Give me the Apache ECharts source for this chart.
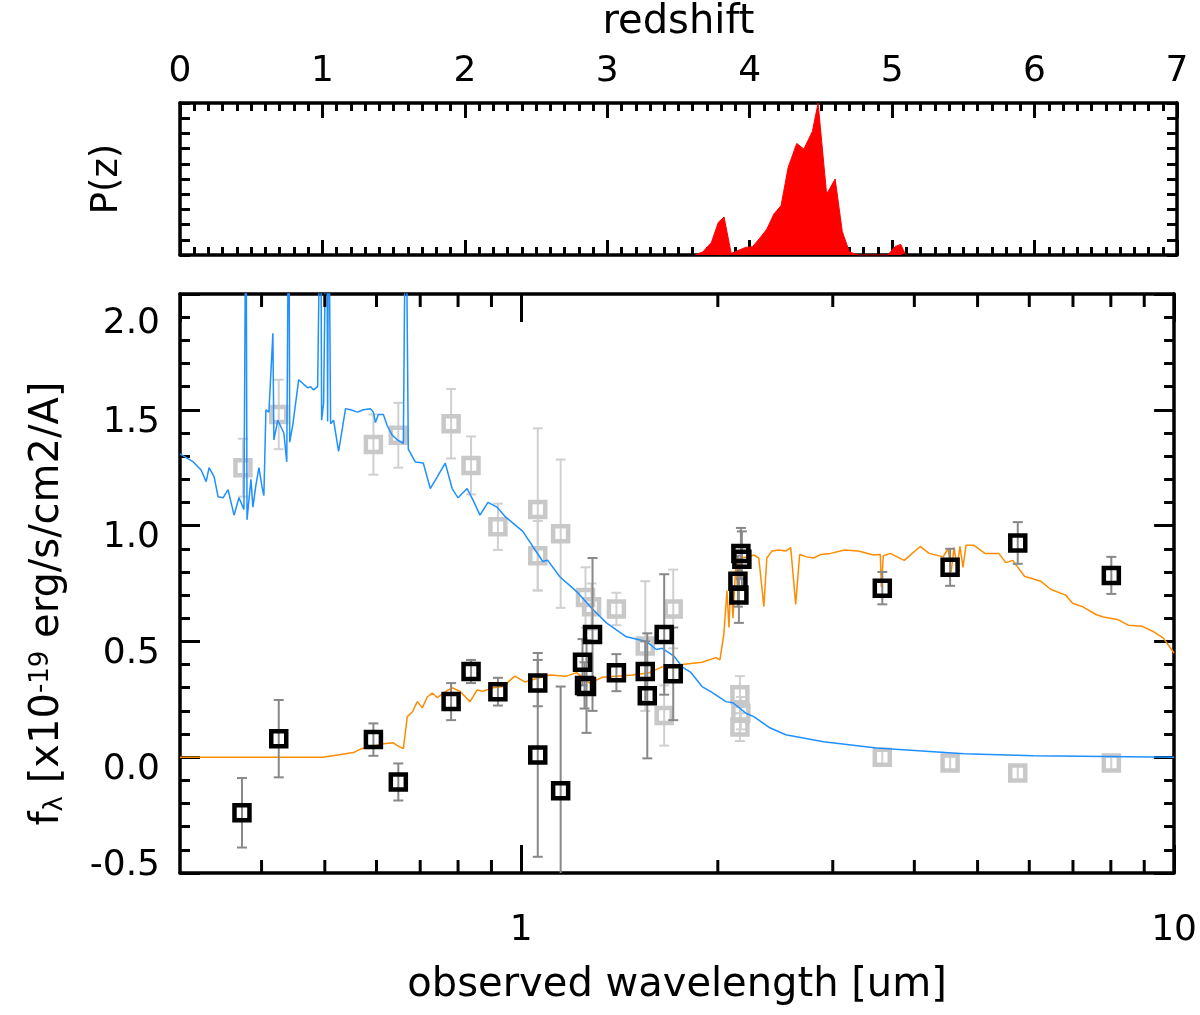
<!DOCTYPE html>
<html>
<head>
<meta charset="utf-8">
<script src="https://cdn.jsdelivr.net/npm/echarts@6/dist/echarts.min.js"></script>
<style>
  html, body { margin: 0; padding: 0; background: #fff; }
  #chart { width: 1200px; height: 1015px; }
</style>
</head>
<body>
<div id="chart"></div>
<script>
// redshift probability distribution (peak normalised to 1)
const pzZ = [3.617, 3.67, 3.73, 3.78, 3.82, 3.87, 3.91, 3.97, 4.02, 4.07, 4.12, 4.17, 4.22, 4.27, 4.33, 4.38, 4.44, 4.48, 4.54, 4.60, 4.65, 4.70, 4.76, 4.97, 5.02, 5.06, 5.09, 5.10]
const pzP = [0, 0.02, 0.08, 0.215, 0.25, 0.01, 0.026, 0.05, 0.055, 0.11, 0.17, 0.27, 0.325, 0.576, 0.734, 0.697, 0.813, 1.0, 0.4, 0.5, 0.154, 0.02, 0, 0, 0.055, 0.07, 0.01, 0]

// low-z template (blue)
const blueWl = [0.300, 0.3144, 0.3232, 0.3290, 0.3324, 0.3384, 0.3431, 0.3492, 0.3554, 0.3630, 0.3694, 0.3759, 0.3786, 0.3800, 0.3853, 0.3880, 0.3921, 0.3963, 0.4005, 0.4033, 0.4062, 0.4105, 0.4163, 0.4178, 0.4236, 0.4327, 0.4372, 0.4403, 0.4418, 0.4466, 0.4560, 0.4641, 0.4707, 0.4756, 0.4806, 0.4875, 0.4927, 0.4944, 0.4979, 0.5032, 0.5050, 0.5067, 0.5103, 0.5157, 0.5249, 0.5323, 0.5379, 0.5475, 0.5610, 0.5730, 0.5873, 0.5935, 0.5977, 0.6040, 0.6147, 0.6234, 0.6345, 0.6458, 0.6596, 0.6653, 0.6712, 0.6879, 0.7076, 0.7253, 0.7434, 0.7646, 0.7834, 0.8000, 0.8259, 0.8434, 0.8643, 0.8890, 0.9175, 0.9437, 1.0053, 1.0785, 1.0977, 1.1446, 1.2153, 1.2855, 1.3502, 1.4487, 1.5542, 1.6099, 1.6444, 1.7152, 1.7640, 1.8199, 1.8918, 1.9592, 2.0583, 2.1095, 2.2080, 2.2709, 2.4026, 2.5410, 2.9040, 3.4995, 4.7654, 6.0953, 10.0]
const blueFlux = [1.31, 1.275, 1.24, 1.19, 1.25, 1.21, 1.125, 1.12, 1.155, 1.045, 1.12, 1.07, 2.6, 1.025, 1.2, 1.08, 1.175, 1.25, 1.17, 1.13, 1.5, 1.49, 1.83, 1.37, 1.455, 1.40, 1.275, 2.6, 1.36, 1.435, 1.63, 1.61, 1.595, 1.60, 1.586, 1.60, 2.6, 1.455, 1.53, 2.6, 1.45, 2.6, 1.44, 1.455, 1.32, 1.425, 1.505, 1.50, 1.49, 1.50, 1.505, 1.49, 1.445, 1.48, 1.48, 1.43, 1.39, 1.37, 1.355, 2.6, 1.33, 1.275, 1.27, 1.16, 1.21, 1.27, 1.16, 1.12, 1.16, 1.11, 1.045, 1.10, 1.08, 1.04, 0.975, 0.845, 0.85, 0.78, 0.715, 0.64, 0.58, 0.52, 0.50, 0.465, 0.47, 0.435, 0.39, 0.365, 0.305, 0.28, 0.24, 0.235, 0.19, 0.175, 0.127, 0.097, 0.067, 0.04, 0.015, 0.006, 0.0]

// best-fit high-z template (orange)
const orangeWl = [0.300, 0.4962, 0.5231, 0.5531, 0.5670, 0.5873, 0.6147, 0.6368, 0.6458, 0.6596, 0.6689, 0.6808, 0.6929, 0.7052, 0.7177, 0.7304, 0.7434, 0.7592, 0.7834, 0.8057, 0.8346, 0.8552, 0.8735, 0.9048, 0.9371, 0.9774, 1.0123, 1.0558, 1.1052, 1.1732, 1.2153, 1.2721, 1.3314, 1.3985, 1.4796, 1.5704, 1.6444, 1.7640, 1.8918, 1.9873, 2.0150, 2.0436, 2.0654, 2.0801, 2.0946, 2.1095, 2.1320, 2.1468, 2.1620, 2.2312, 2.2709, 2.3111, 2.3524, 2.3774, 2.4194, 2.4797, 2.5410, 2.5864, 2.6322, 2.6694, 2.7358, 2.8039, 2.8735, 2.9764, 3.1266, 3.2845, 3.4623, 3.5481, 3.5604, 3.5857, 3.6745, 3.8603, 4.0832, 4.2141, 4.4274, 4.5060, 4.5540, 4.6026, 4.6505, 4.6989, 4.7489, 4.7995, 4.9363, 5.1310, 5.3883, 5.5228, 5.6605, 5.9036, 6.0081, 6.2451, 6.4686, 6.8197, 6.9895, 7.2384, 7.6031, 7.7930, 8.1846, 8.5093, 8.9381, 9.2562, 9.6209, 10.0]
const orangeFlux = [0, 0, 0.01, 0.02, 0.035, 0.045, 0.058, 0.062, 0.05, 0.037, 0.175, 0.195, 0.24, 0.213, 0.26, 0.277, 0.257, 0.277, 0.30, 0.284, 0.24, 0.29, 0.285, 0.30, 0.305, 0.35, 0.325, 0.34, 0.355, 0.35, 0.365, 0.32, 0.345, 0.35, 0.355, 0.365, 0.39, 0.40, 0.41, 0.43, 0.42, 0.535, 0.72, 0.56, 0.78, 0.60, 0.84, 0.70, 0.86, 0.865, 0.873, 0.86, 0.65, 0.86, 0.89, 0.895, 0.89, 0.905, 0.66, 0.875, 0.865, 0.86, 0.875, 0.88, 0.895, 0.89, 0.873, 0.875, 0.735, 0.87, 0.88, 0.85, 0.91, 0.88, 0.865, 0.90, 0.80, 0.905, 0.82, 0.91, 0.82, 0.915, 0.915, 0.88, 0.88, 0.84, 0.85, 0.78, 0.775, 0.76, 0.725, 0.70, 0.665, 0.65, 0.615, 0.605, 0.595, 0.57, 0.565, 0.545, 0.515, 0.45]

// observed photometry (black squares)
const obsWl = [0.3733, 0.4250, 0.5935, 0.6480, 0.7806, 0.8375, 0.9207, 1.0597, 1.0597, 1.1488, 1.2409, 1.2498, 1.2585, 1.2855, 1.3985, 1.5484, 1.5594, 1.6552, 1.7089, 2.1695, 2.1770, 2.1468, 2.1544, 3.5727, 4.5380, 5.7611, 8.0140]
const obsFlux = [-0.24, 0.08, 0.076, -0.107, 0.24, 0.37, 0.283, 0.32, 0.01, -0.145, 0.41, 0.31, 0.305, 0.53, 0.365, 0.37, 0.265, 0.53, 0.36, 0.88, 0.855, 0.76, 0.70, 0.73, 0.82, 0.925, 0.785]
const obsErr = [0.15, 0.167, 0.07, 0.08, 0.08, 0.05, 0.06, 0.1, 0.44, 0.45, 0.1, 0.1, 0.2, 0.33, 0.08, 0.13, 0.27, 0.26, 0.2, 0.11, 0.12, 0.11, 0.12, 0.07, 0.08, 0.09, 0.08]

// alternative photometry (grey squares)
const altWl = [0.3746, 0.4250, 0.5935, 0.6480, 0.7806, 0.8375, 0.9207, 1.0597, 1.0597, 1.1488, 1.2540, 1.2812, 1.3985, 1.5484, 1.6552, 1.7089, 2.1620, 2.1695, 2.1620, 3.5727, 4.5380, 5.7611, 8.0140]
const altFlux = [1.25, 1.48, 1.35, 1.39, 1.44, 1.26, 0.995, 1.07, 0.87, 0.965, 0.69, 0.65, 0.64, 0.48, 0.18, 0.64, 0.27, 0.19, 0.13, 0.0, -0.025, -0.068, -0.025]
const altErr = [0.125, 0.15, 0.13, 0.14, 0.15, 0.125, 0.1, 0.35, 0.15, 0.32, 0.13, 0.1, 0.07, 0.28, 0.13, 0.17, 0.08, 0.07, 0.06, 0.03, 0.03, 0.03, 0.03]

// axis ranges and tick values
const zMin = 0, zMax = 7
const wlMin = 0.3, wlMax = 10
const fluxMin = -0.5, fluxMax = 2.0
const wlLabels = [1, 10]
const wlMinorTicks = [0.4, 0.5, 0.6, 0.7, 0.8, 0.9, 2, 3, 4, 5, 6, 7, 8, 9]

const font = 'DejaVu Sans'
const black = '#000'
const axisLine = { show: true, onZero: false, lineStyle: { color: black, width: 3.5 } }
const tickStyle = { color: black, width: 3 }

const errorBars = (wl, flux, err, color, z) => ({
  type: 'custom',
  xAxisIndex: 2,
  yAxisIndex: 2,
  z,
  silent: true,
  data: wl.map((w, i) => [w, flux[i], err[i]]),
  renderItem: (params, api) => {
    const x = api.value(0), y = api.value(1), e = api.value(2)
    const lo = Math.max(y - e, fluxMin), hi = Math.min(y + e, fluxMax)
    const p0 = api.coord([x, lo]), p1 = api.coord([x, hi])
    const style = { stroke: color, lineWidth: 2 }
    const children = [{ type: 'line', shape: { x1: p0[0], y1: p0[1], x2: p1[0], y2: p1[1] }, style }]
    if (y - e > fluxMin) children.push({ type: 'line', shape: { x1: p0[0] - 5, y1: p0[1], x2: p0[0] + 5, y2: p0[1] }, style })
    if (y + e < fluxMax) children.push({ type: 'line', shape: { x1: p1[0] - 5, y1: p1[1], x2: p1[0] + 5, y2: p1[1] }, style })
    return { type: 'group', children }
  }
})

const squares = (wl, flux, color, z) => ({
  type: 'scatter',
  xAxisIndex: 2,
  yAxisIndex: 2,
  z,
  symbol: 'rect',
  symbolSize: 15,
  itemStyle: { color: 'rgba(0,0,0,0)', borderColor: color, borderWidth: 4.5, opacity: 1 },
  data: wl.map((w, i) => [w, flux[i]])
})

// y labels sit a little below their ticks, the end ones are pulled inside the frame
const fluxLabel = v => {
  const s = v.toFixed(1)
  if (Math.abs(v - fluxMax) < 1e-9) return '{top|' + s + '}'
  if (Math.abs(v - fluxMin) < 1e-9) return '{bot|' + s + '}'
  return '{mid|' + s + '}'
}

const chart = echarts.init(document.getElementById('chart'))

chart.setOption({
  animation: false,
  backgroundColor: '#fff',
  textStyle: { fontFamily: font },
  grid: [
    { left: 180, right: 23, top: 103, height: 152 },
    { left: 180, right: 23, top: 294, height: 579 }
  ],
  xAxis: [
    {
      gridIndex: 0, type: 'value', position: 'top', min: zMin, max: zMax, interval: 1,
      name: 'redshift', nameLocation: 'middle', nameGap: 60,
      nameTextStyle: { fontSize: 40, color: black, fontFamily: font },
      axisLine,
      axisTick: { inside: true, length: 15, lineStyle: tickStyle },
      minorTick: { show: true, splitNumber: 10, length: 8, lineStyle: tickStyle },
      axisLabel: { fontSize: 36, color: black, fontFamily: font, margin: 13 },
      splitLine: { show: false }
    },
    {
      gridIndex: 0, type: 'value', position: 'bottom', min: zMin, max: zMax, interval: 1,
      axisLine,
      axisTick: { inside: true, length: 15, lineStyle: tickStyle },
      minorTick: { show: true, splitNumber: 10, length: 8, lineStyle: tickStyle },
      axisLabel: { show: false },
      splitLine: { show: false }
    },
    {
      gridIndex: 1, type: 'log', logBase: 10, position: 'bottom', min: wlMin, max: wlMax,
      name: 'observed wavelength [um]', nameLocation: 'middle', nameGap: 93,
      nameTextStyle: { fontSize: 40, color: black, fontFamily: font },
      axisLine,
      axisTick: { inside: true, length: 28, lineStyle: tickStyle },
      axisLabel: {
        fontSize: 36, color: black, fontFamily: font, margin: 40, showMinLabel: false,
        formatter: v => (wlLabels.includes(Math.round(v * 1000) / 1000) ? String(Math.round(v)) : '')
      },
      splitLine: { show: false }
    },
    {
      gridIndex: 1, type: 'log', logBase: 10, position: 'top', min: wlMin, max: wlMax,
      axisLine,
      axisTick: { inside: true, length: 28, lineStyle: tickStyle },
      axisLabel: { show: false },
      splitLine: { show: false }
    }
  ],
  yAxis: [
    {
      gridIndex: 0, type: 'value', position: 'left', min: 0, max: 1, interval: 0.1,
      name: 'P(z)', nameLocation: 'middle', nameGap: 54, nameRotate: 90,
      nameTextStyle: { fontSize: 37, color: black, fontFamily: font },
      axisLine,
      axisTick: { inside: true, length: 10, lineStyle: tickStyle },
      axisLabel: { show: false },
      splitLine: { show: false }
    },
    {
      gridIndex: 0, type: 'value', position: 'right', min: 0, max: 1, interval: 0.1,
      axisLine,
      axisTick: { inside: true, length: 10, lineStyle: tickStyle },
      axisLabel: { show: false },
      splitLine: { show: false }
    },
    {
      gridIndex: 1, type: 'value', position: 'left', min: fluxMin, max: fluxMax, interval: 0.5,
      name: 'f{sub|λ} [x10{sup|-19} erg/s/cm2/A]', nameLocation: 'middle', nameGap: 112, nameRotate: 90,
      nameTextStyle: {
        fontSize: 40, color: black, fontFamily: font, padding: [0, 40, 0, 0],
        rich: {
          sub: { fontSize: 26, fontFamily: font, verticalAlign: 'bottom' },
          sup: { fontSize: 26, fontFamily: font, verticalAlign: 'top' }
        }
      },
      axisLine,
      axisTick: { inside: true, length: 20, lineStyle: tickStyle },
      minorTick: { show: true, splitNumber: 5, length: 10, lineStyle: tickStyle },
      axisLabel: {
        fontSize: 36, color: black, fontFamily: font, margin: 20,
        formatter: fluxLabel,
        rich: {
          top: { fontSize: 36, fontFamily: font, color: black, padding: [60, 0, 0, 0] },
          mid: { fontSize: 36, fontFamily: font, color: black, padding: [25, 0, 0, 0] },
          bot: { fontSize: 36, fontFamily: font, color: black, padding: [0, 0, 14, 0] }
        }
      },
      splitLine: { show: false }
    },
    {
      gridIndex: 1, type: 'value', position: 'right', min: fluxMin, max: fluxMax, interval: 0.5,
      axisLine,
      axisTick: { inside: true, length: 20, lineStyle: tickStyle },
      minorTick: { show: true, splitNumber: 5, length: 10, lineStyle: tickStyle },
      axisLabel: { show: false },
      splitLine: { show: false }
    }
  ],
  series: [
    {
      name: 'P(z)', type: 'line', xAxisIndex: 0, yAxisIndex: 0,
      data: pzZ.map((z, i) => [z, pzP[i]]),
      symbol: 'none',
      lineStyle: { color: '#ff0000', width: 1 },
      areaStyle: { color: '#ff0000', opacity: 1 }
    },
    errorBars(altWl, altFlux, altErr, '#d0d0d0', 2),
    squares(altWl, altFlux, '#c8c8c8', 3),
    {
      name: 'low-z', type: 'line', xAxisIndex: 2, yAxisIndex: 2, z: 4,
      data: blueWl.map((w, i) => [w, blueFlux[i]]),
      symbol: 'none', clip: true,
      lineStyle: { color: '#1e90ff', width: 1.5 }
    },
    {
      name: 'high-z', type: 'line', xAxisIndex: 2, yAxisIndex: 2, z: 5,
      data: orangeWl.map((w, i) => [w, orangeFlux[i]]),
      symbol: 'none', clip: true,
      lineStyle: { color: '#ff8c00', width: 1.5 }
    },
    errorBars(obsWl, obsFlux, obsErr, '#888888', 6),
    squares(obsWl, obsFlux, '#000000', 7),
    {
      // minor ticks of the log axis, top and bottom
      type: 'custom', xAxisIndex: 2, yAxisIndex: 2, z: 10, silent: true,
      data: wlMinorTicks.map(v => [v, 0]),
      renderItem: (params, api) => {
        const b = api.coord([api.value(0), fluxMin]), t = api.coord([api.value(0), fluxMax])
        const style = { stroke: black, lineWidth: 3 }
        return {
          type: 'group',
          children: [
            { type: 'line', shape: { x1: b[0], y1: b[1], x2: b[0], y2: b[1] - 13 }, style },
            { type: 'line', shape: { x1: t[0], y1: t[1], x2: t[0], y2: t[1] + 13 }, style }
          ]
        }
      }
    }
  ]
})
</script>
</body>
</html>
